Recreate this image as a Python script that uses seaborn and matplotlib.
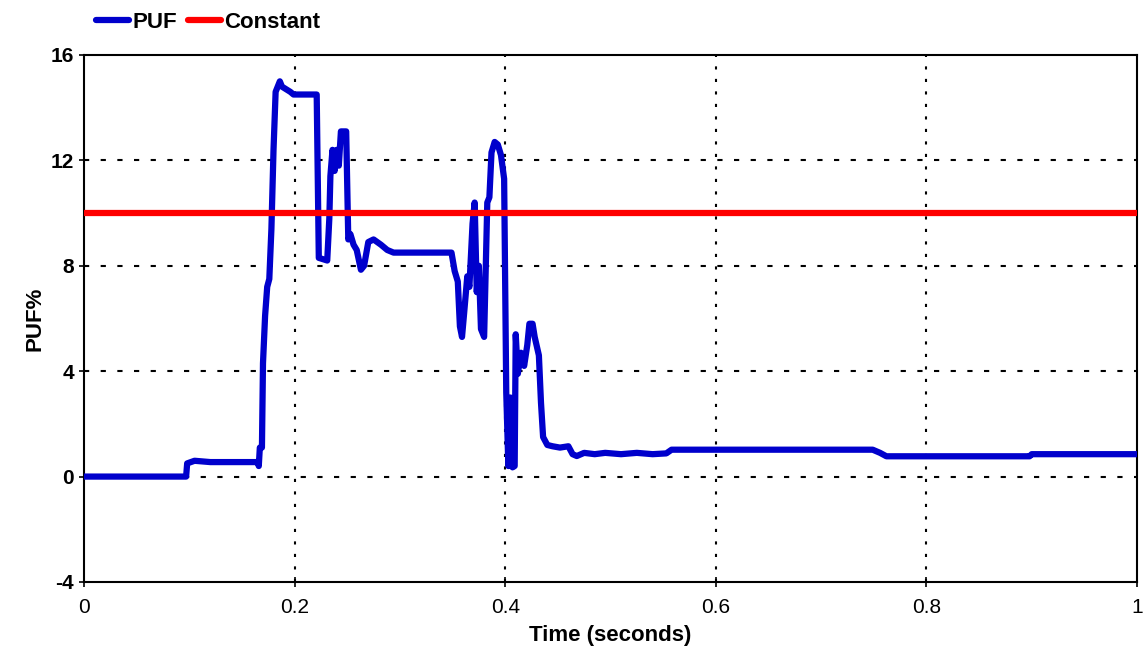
import matplotlib
matplotlib.use("Agg")
import matplotlib.pyplot as plt
import seaborn as sns
import pandas as pd

# ---- data ----
time_s = [0.0, 0.097, 0.098, 0.105, 0.12, 0.165, 0.166, 0.167, 0.169, 0.170,
          0.172, 0.174, 0.176, 0.178, 0.180, 0.182, 0.186, 0.188, 0.192, 0.196,
          0.199, 0.221, 0.223, 0.231, 0.233, 0.234, 0.236, 0.238, 0.240, 0.242,
          0.244, 0.249, 0.251, 0.253, 0.256, 0.259, 0.263, 0.266, 0.270, 0.275,
          0.282, 0.288, 0.294, 0.349, 0.352, 0.355, 0.357, 0.359, 0.361, 0.364,
          0.366, 0.369, 0.371, 0.373, 0.375, 0.377, 0.380, 0.383, 0.385, 0.387,
          0.390, 0.393, 0.396, 0.399, 0.401, 0.403, 0.405, 0.407, 0.409, 0.410,
          0.412, 0.415, 0.418, 0.421, 0.423, 0.426, 0.428, 0.432, 0.434, 0.436,
          0.440, 0.445, 0.452, 0.460, 0.464, 0.468, 0.475, 0.485, 0.495, 0.510,
          0.525, 0.540, 0.553, 0.558, 0.749, 0.756, 0.762, 0.898, 0.900, 1.0]
puf = [0.0, 0.0, 0.5, 0.6, 0.55, 0.55, 0.4, 1.1, 1.1, 4.3,
       6.1, 7.2, 7.5, 9.4, 12.4, 14.6, 15.0, 14.8, 14.7, 14.6,
       14.5, 14.5, 8.3, 8.2, 9.8, 11.4, 12.4, 11.6, 12.4, 11.8,
       13.1, 13.1, 9.0, 9.2, 8.8, 8.6, 7.85, 8.0, 8.9, 9.0,
       8.8, 8.6, 8.5, 8.5, 7.8, 7.4, 5.7, 5.3, 6.2, 7.6,
       7.2, 9.6, 10.4, 7.0, 8.0, 5.6, 5.3, 10.4, 10.6, 12.3,
       12.7, 12.6, 12.2, 11.3, 3.2, 0.4, 3.0, 0.35, 0.4, 5.4,
       3.9, 4.7, 4.2, 5.0, 5.8, 5.8, 5.3, 4.6, 2.8, 1.5,
       1.2, 1.15, 1.1, 1.15, 0.85, 0.78, 0.9, 0.85, 0.9, 0.85,
       0.9, 0.85, 0.88, 1.02, 1.02, 0.9, 0.77, 0.77, 0.85, 0.85]
const_t = [0.0, 1.0]
const_v = [10.0, 10.0]
x_ticks = [0, 0.2, 0.4, 0.6, 0.8, 1]
x_tick_labels = ["0", "0.2", "0.4", "0.6", "0.8", "1"]
y_ticks = [-4, 0, 4, 8, 12, 16]

sns.set_style("white")
plt.rcParams["font.family"] = ["Liberation Sans", "DejaVu Sans"]
plt.rcParams["axes.unicode_minus"] = False
for k in ["text.color", "axes.labelcolor", "xtick.color", "ytick.color"]:
    plt.rcParams[k] = "black"

fig = plt.figure(figsize=(11.44, 6.57), dpi=100)
ax = fig.add_axes([0.0734, 0.1142, 0.9205, 0.8021])

df_puf = pd.DataFrame({"t": time_s, "v": puf})
df_c = pd.DataFrame({"t": const_t, "v": const_v})

sns.lineplot(data=df_puf, x="t", y="v", ax=ax, color="#0000CC", linewidth=4.5,
             estimator=None, sort=False, label="PUF", zorder=3)
sns.lineplot(data=df_c, x="t", y="v", ax=ax, color="#FF0000", linewidth=4.5,
             estimator=None, sort=False, label="Constant", zorder=4)

ax.set_xlim(0, 1)
ax.set_ylim(-4, 16)
ax.set_xticks(x_ticks)
ax.set_xticklabels(x_tick_labels)
ax.set_yticks(y_ticks)

for xv in x_ticks[1:-1]:
    ax.axvline(xv, color="black", linestyle=(0, (1.5, 4.5)), linewidth=1.5, zorder=1)
for yv in y_ticks[1:-1]:
    ax.axhline(yv, color="black", linestyle=(0, (2.5, 5.5)), linewidth=1.5, zorder=1)

for s in ax.spines.values():
    s.set_color("black")
    s.set_linewidth(1.5)

ax.tick_params(axis="both", direction="inout", length=7, width=1.2,
               labelsize=15, colors="black", bottom=True, left=True)
ax.tick_params(axis="x", pad=8)
for lbl in ax.get_yticklabels():
    lbl.set_fontweight("bold")

ax.set_xlabel("Time (seconds)", fontsize=16, fontweight="bold", labelpad=6)
ax.set_ylabel("PUF%", fontsize=16, fontweight="bold", labelpad=4)

ax.get_legend().remove()
h, l = ax.get_legend_handles_labels()
fig.legend(h, l, loc="upper left", bbox_to_anchor=(0.066, 1.012), ncol=2,
           frameon=False, handlelength=1.5, handletextpad=0.15, columnspacing=0.5,
           prop={"weight": "bold", "size": 16})

fig.savefig("out.png", dpi=100)
